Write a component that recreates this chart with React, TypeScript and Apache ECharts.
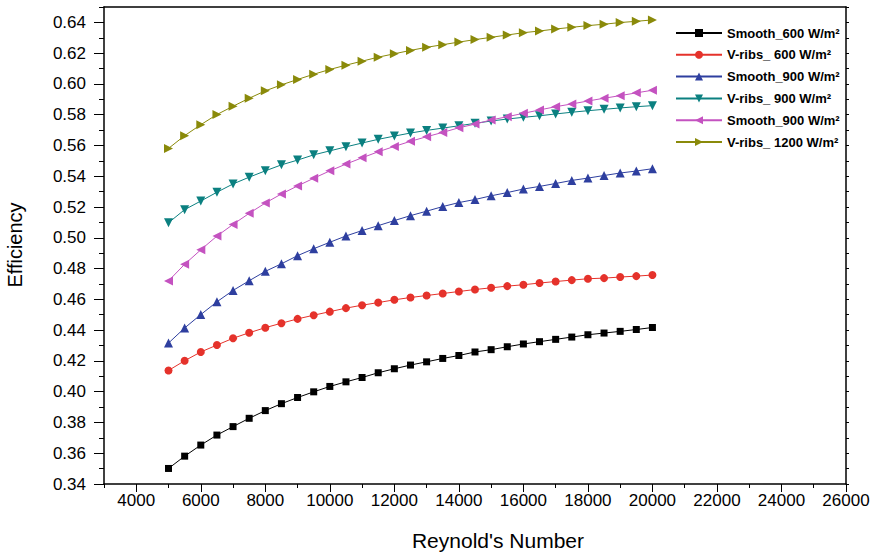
import React, { useEffect, useRef } from "react";
import * as echarts from "echarts";

const reynolds = [
  5000, 5500, 6000, 6500, 7000, 7500, 8000, 8500, 9000, 9500, 10000, 10500, 11000, 11500, 12000, 12500,
  13000, 13500, 14000, 14500, 15000, 15500, 16000, 16500, 17000, 17500, 18000, 18500, 19000, 19500, 20000,
];

const smooth600 = [
  0.3501, 0.3581, 0.3653, 0.3718, 0.3773, 0.3827, 0.3877, 0.3922, 0.3962, 0.3999, 0.4034, 0.4064, 0.4092,
  0.4123, 0.4149, 0.4173, 0.4194, 0.4216, 0.4235, 0.4258, 0.4273, 0.4292, 0.431, 0.4325, 0.434, 0.4355,
  0.437, 0.4381, 0.4392, 0.4404, 0.4417,
];
const vribs600 = [
  0.4138, 0.4201, 0.4258, 0.4303, 0.4347, 0.4383, 0.4416, 0.4445, 0.4473, 0.4497, 0.452, 0.4543, 0.4562,
  0.4579, 0.4597, 0.4612, 0.4625, 0.4638, 0.4651, 0.4664, 0.4675, 0.4686, 0.4695, 0.4706, 0.4716, 0.4725,
  0.4734, 0.4738, 0.4745, 0.4751, 0.4758,
];
const smooth900 = [
  0.4316, 0.4414, 0.4501, 0.4584, 0.4658, 0.4721, 0.4782, 0.4831, 0.4884, 0.4929, 0.4971, 0.5012, 0.5047,
  0.5079, 0.5112, 0.5144, 0.5173, 0.5203, 0.5229, 0.5249, 0.5273, 0.5294, 0.5317, 0.5334, 0.5353, 0.5373,
  0.5388, 0.5405, 0.5421, 0.5434, 0.5449,
];
const vribs900 = [
  0.5098, 0.5183, 0.5239, 0.5296, 0.535, 0.5394, 0.5435, 0.5474, 0.5505, 0.5539, 0.5565, 0.5591, 0.5616,
  0.564, 0.5661, 0.5681, 0.5698, 0.5713, 0.5728, 0.5744, 0.5759, 0.5772, 0.5783, 0.5793, 0.5805, 0.5816,
  0.5826, 0.5835, 0.5844, 0.5852, 0.5859,
];
const smooth900b = [
  0.472, 0.4828, 0.4922, 0.5011, 0.5087, 0.5159, 0.5226, 0.5285, 0.5337, 0.5387, 0.5435, 0.5479, 0.552,
  0.5559, 0.5594, 0.5627, 0.5657, 0.5685, 0.5715, 0.5739, 0.5766, 0.5787, 0.5809, 0.5831, 0.5852, 0.587,
  0.5889, 0.5907, 0.5924, 0.5942, 0.5959,
];
const vribs1200 = [
  0.5581, 0.5664, 0.5735, 0.5801, 0.5855, 0.5907, 0.5955, 0.5994, 0.6029, 0.6063, 0.6094, 0.6122, 0.6148,
  0.6174, 0.6196, 0.6218, 0.6238, 0.6255, 0.6272, 0.6288, 0.6303, 0.6318, 0.6333, 0.6344, 0.6357, 0.6368,
  0.6379, 0.6388, 0.6399, 0.6407, 0.6416,
];

const seriesNames = [
  "Smooth_600 W/m²",
  "V-ribs_ 600 W/m²",
  "Smooth_900 W/m²",
  "V-ribs_ 900 W/m²",
  "Smooth_900 W/m² ",
  "V-ribs_ 1200 W/m²",
];
const seriesValues = [smooth600, vribs600, smooth900, vribs900, smooth900b, vribs1200];
const seriesColors = ["#000000", "#e5322b", "#2e3f9f", "#0b8080", "#c452c0", "#8a8a0a"];
const seriesSymbols = [
  "rect",
  "circle",
  "triangle",
  "path://M0,0L10,0L5,9Z",
  "path://M9,0L9,10L0,5Z",
  "path://M0,0L9,5L0,10Z",
];
const symbolSizes = [7, 8, 9, 9, 9, 9];

const xTitle = "Reynold's Number";
const yTitle = "Efficiency";

const FONT = "Arial, 'Liberation Sans', sans-serif";

export default function App() {
  const ref = useRef<HTMLDivElement>(null);
  useEffect(() => {
    document.body.style.margin = "0";
    const chart = echarts.init(ref.current!, null, { renderer: "svg" });
    const L = 104;
    const R = 31;
    const T = 7;
    const B = 71;
    const plotW = 877 - L - R;
    const plotH = 555 - T - B;
    const pxPer1000 = plotW / 23;
    const pxPer001 = plotH / 31;
    const series = seriesNames.map((name, i) => ({
      name,
      type: "line",
      xAxisIndex: 0,
      yAxisIndex: 0,
      data: reynolds.map((x, j) => [x, seriesValues[i][j]]),
      symbol: seriesSymbols[i],
      symbolSize: symbolSizes[i],
      showAllSymbol: true,
      color: seriesColors[i],
      lineStyle: { width: 1, color: seriesColors[i] },
      itemStyle: { color: seriesColors[i] },
      emphasis: { disabled: true },
    }));
    chart.setOption({
      animation: false,
      backgroundColor: "#ffffff",
      grid: [
        { left: L, right: R, top: T, bottom: B, containLabel: false },
        { left: L + pxPer1000, right: R, top: T + pxPer001, bottom: B, containLabel: false },
      ],
      xAxis: [
        {
          type: "value",
          gridIndex: 0,
          position: "bottom",
          min: 3000,
          max: 26000,
          interval: 1000,
          axisLine: { show: true, lineStyle: { color: "#000", width: 1.5 } },
          axisTick: { show: true, length: 4, lineStyle: { color: "#000", width: 1 } },
          axisLabel: { show: false },
          splitLine: { show: false },
        },
        {
          type: "value",
          gridIndex: 0,
          position: "top",
          min: 3000,
          max: 26000,
          interval: 1000,
          axisLine: { show: true, lineStyle: { color: "#000", width: 1.5 } },
          axisTick: { show: false },
          axisLabel: { show: false },
          splitLine: { show: false },
        },
        {
          type: "value",
          gridIndex: 1,
          position: "bottom",
          min: 4000,
          max: 26000,
          interval: 2000,
          axisLine: { show: false },
          axisTick: { show: true, length: 8, lineStyle: { color: "#000", width: 1 } },
          axisLabel: {
            show: true,
            fontSize: 17,
            color: "#000",
            fontFamily: FONT,
            margin: 8,
            formatter: (v: number) => String(Math.round(v)),
          },
          splitLine: { show: false },
        },
      ],
      yAxis: [
        {
          type: "value",
          gridIndex: 0,
          position: "left",
          min: 0.34,
          max: 0.65,
          interval: 0.01,
          axisLine: { show: true, lineStyle: { color: "#000", width: 1.5 } },
          axisTick: { show: true, length: 5, lineStyle: { color: "#000", width: 1 } },
          axisLabel: { show: false },
          splitLine: { show: false },
        },
        {
          type: "value",
          gridIndex: 0,
          position: "right",
          min: 0.34,
          max: 0.65,
          interval: 0.01,
          axisLine: { show: true, lineStyle: { color: "#000", width: 1.5 } },
          axisTick: { show: true, length: 3, lineStyle: { color: "#000", width: 1 } },
          axisLabel: { show: false },
          splitLine: { show: false },
        },
        {
          type: "value",
          gridIndex: 1,
          position: "left",
          offset: pxPer1000,
          min: 0.34,
          max: 0.64,
          interval: 0.02,
          axisLine: { show: false },
          axisTick: { show: true, length: 10, lineStyle: { color: "#000", width: 1 } },
          axisLabel: {
            show: true,
            fontSize: 17,
            color: "#000",
            fontFamily: FONT,
            margin: 18,
            formatter: (v: number) => v.toFixed(2),
          },
          splitLine: { show: false },
        },
      ],
      legend: {
        orient: "vertical",
        left: 670,
        top: 20,
        itemWidth: 46,
        itemHeight: 10,
        itemGap: 5.8,
        selectedMode: false,
        data: seriesNames,
        formatter: (name: string) => name.trim(),
        textStyle: {
          fontFamily: FONT,
          fontSize: 13,
          fontWeight: "bold",
          color: "#000",
          lineHeight: 16,
        },
      },
      graphic: [
        {
          type: "text",
          x: 15,
          y: 245,
          rotation: Math.PI / 2,
          style: {
            text: yTitle,
            font: `20px ${FONT}`,
            fill: "#000",
            textAlign: "center",
            textVerticalAlign: "middle",
          },
        },
        {
          type: "text",
          x: 498,
          y: 540,
          style: {
            text: xTitle,
            font: `21px ${FONT}`,
            fill: "#000",
            textAlign: "center",
            textVerticalAlign: "middle",
          },
        },
      ],
      series,
    });
    return () => chart.dispose();
  }, []);
  return (
    <div
      ref={ref}
      style={{ position: "absolute", left: 0, top: 0, width: 877, height: 555 }}
    />
  );
}
